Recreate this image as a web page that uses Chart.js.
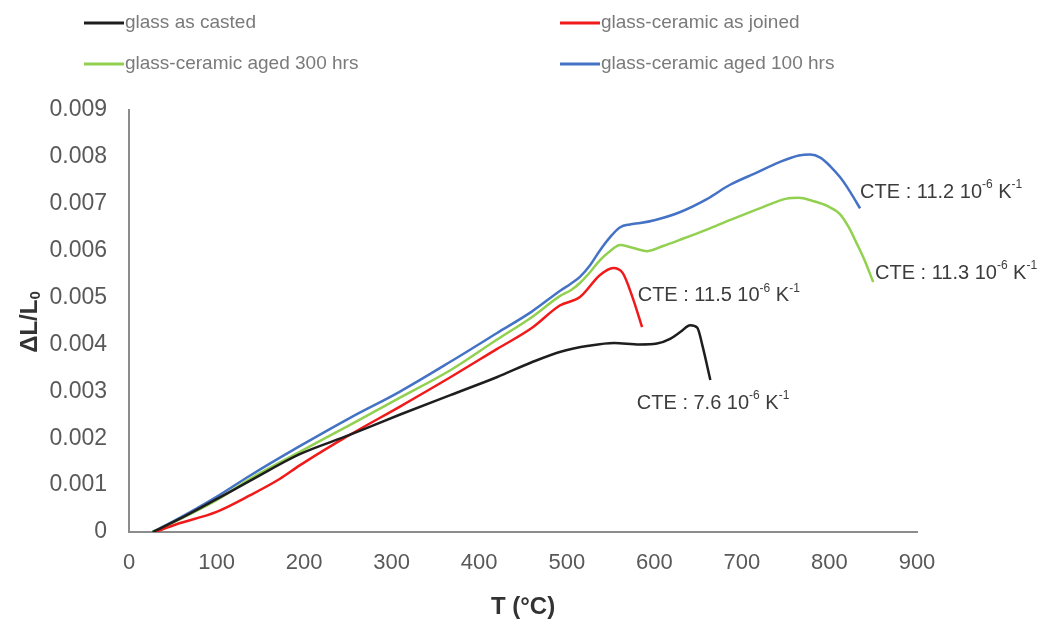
<!DOCTYPE html>
<html><head><meta charset="utf-8">
<script src="https://cdn.jsdelivr.net/npm/chart.js@4.4.0/dist/chart.umd.min.js"></script>
<style>html,body{margin:0;padding:0;background:#fff;} #wrap{width:1054px;height:624px;position:relative;}</style>
</head><body><div id="wrap"><canvas id="c" width="1054" height="624"></canvas></div>
<script>
const seriesNames = ['glass as casted', 'glass-ceramic as joined', 'glass-ceramic aged 300 hrs', 'glass-ceramic aged 100 hrs'];
const seriesColors = ['#1e1e1e', '#f01a1a', '#92d050', '#4472c4'];

const castedT = [27, 60, 100, 138, 195, 252, 309, 367, 420, 460, 494, 525, 554, 583, 603, 618, 630, 641, 649, 655, 664];
const castedV = [0, 0.0003, 0.0007, 0.00109, 0.00166, 0.00207, 0.0025, 0.00292, 0.0033, 0.00362, 0.00385, 0.00397, 0.00403, 0.004, 0.00402, 0.00412, 0.00427, 0.00441, 0.00436, 0.00397, 0.00324];

const joinedT = [30, 55, 100, 138, 172, 195, 252, 309, 367, 420, 460, 492, 515, 538, 553, 564, 575, 586];
const joinedV = [0, 0.00017, 0.00043, 0.00078, 0.00113, 0.00142, 0.00207, 0.00267, 0.0033, 0.0039, 0.00435, 0.00483, 0.00501, 0.00548, 0.00563, 0.00552, 0.00501, 0.00437];

const aged300T = [27, 50, 100, 138, 195, 252, 309, 367, 420, 460, 492, 505, 515, 527, 538, 550, 561, 572, 592, 610, 629, 660, 686, 724, 751, 765, 781, 798, 812, 822, 831, 840, 850];
const aged300V = [0, 0.0002, 0.00068, 0.00113, 0.00171, 0.00228, 0.00286, 0.00345, 0.0041, 0.00458, 0.00503, 0.00516, 0.00531, 0.00555, 0.0058, 0.006, 0.00612, 0.00608, 0.00599, 0.0061, 0.00623, 0.00645, 0.00665, 0.00693, 0.00711, 0.00713, 0.00706, 0.00695, 0.00678, 0.0065, 0.00616, 0.0058, 0.00533];

const aged100T = [27, 50, 100, 138, 195, 252, 309, 367, 420, 460, 492, 505, 515, 527, 538, 550, 561, 572, 584, 600, 629, 660, 686, 715, 743, 765, 778, 790, 801, 812, 820, 828, 835];
const aged100V = [0, 0.00022, 0.00075, 0.0012, 0.00183, 0.00243, 0.00299, 0.00363, 0.00424, 0.0047, 0.00514, 0.0053, 0.00544, 0.0057, 0.00601, 0.0063, 0.0065, 0.00656, 0.00659, 0.00665, 0.00682, 0.0071, 0.0074, 0.00765, 0.00789, 0.00803, 0.00805, 0.00798, 0.0078, 0.00757, 0.00736, 0.00712, 0.0069];

const xTicks = [0, 100, 200, 300, 400, 500, 600, 700, 800, 900];
const yTicks = [0, 0.001, 0.002, 0.003, 0.004, 0.005, 0.006, 0.007, 0.008, 0.009];

const cteValues = ['7.6', '11.5', '11.3', '11.2'];
const cteAnchorT = [580, 581, 852, 835];
const cteAnchorV = [0.00275, 0.00505, 0.00552, 0.00725];

const FONT = '"Liberation Sans", Arial, sans-serif';

function pts(T, V) { return T.map((t, i) => ({ x: t, y: V[i] })); }

const seriesData = [pts(castedT, castedV), pts(joinedT, joinedV), pts(aged300T, aged300V), pts(aged100T, aged100V)];

const extras = {
  id: 'extras',
  afterDraw(chart) {
    const ctx = chart.ctx;
    const xs = chart.scales.x, ys = chart.scales.y;
    ctx.save();
    const colX = [84, 560];
    const rowY = [23, 64];
    chart.data.datasets.forEach((ds, i) => {
      const col = i % 2, row = Math.floor(i / 2);
      const x0 = colX[col], y0 = rowY[row];
      ctx.strokeStyle = ds.borderColor;
      ctx.lineWidth = 3;
      ctx.beginPath(); ctx.moveTo(x0, y0); ctx.lineTo(x0 + 40, y0); ctx.stroke();
      ctx.fillStyle = '#7a7a7a';
      ctx.font = '19px ' + FONT;
      ctx.textBaseline = 'middle';
      ctx.textAlign = 'left';
      ctx.fillText(ds.label, x0 + 41, y0);
    });
    ctx.fillStyle = '#3c3c3c';
    ctx.textBaseline = 'middle';
    cteValues.forEach((v, i) => {
      let x = xs.getPixelForValue(cteAnchorT[i]);
      const y = ys.getPixelForValue(cteAnchorV[i]);
      const parts = [['CTE : ' + v + ' 10', false], ['-6', true], [' K', false], ['-1', true]];
      parts.forEach(([t, sup]) => {
        ctx.font = (sup ? '12px ' : '20px ') + FONT;
        ctx.fillText(t, x, sup ? y - 7 : y);
        x += ctx.measureText(t).width;
      });
    });
    ctx.save();
    ctx.translate(30, 322);
    ctx.rotate(-Math.PI / 2);
    ctx.fillStyle = '#333333';
    ctx.textBaseline = 'middle';
    ctx.font = 'bold 24px ' + FONT;
    const main = 'ΔL/L';
    const wMain = ctx.measureText(main).width;
    ctx.font = 'bold 15px ' + FONT;
    const wSub = ctx.measureText('0').width;
    const start = -(wMain + wSub) / 2;
    ctx.font = 'bold 24px ' + FONT;
    ctx.textAlign = 'left';
    ctx.fillText(main, start, 0);
    ctx.font = 'bold 15px ' + FONT;
    ctx.fillText('0', start + wMain, 6);
    ctx.restore();
    ctx.restore();
  }
};

new Chart(document.getElementById('c'), {
  type: 'line',
  data: {
    datasets: seriesNames.map((name, i) => ({
      label: name,
      data: seriesData[i],
      borderColor: seriesColors[i],
      backgroundColor: seriesColors[i],
      borderWidth: 2.5,
      pointRadius: 0,
      cubicInterpolationMode: 'monotone',
      fill: false
    }))
  },
  options: {
    responsive: false,
    devicePixelRatio: 1,
    animation: false,
    layout: { padding: { top: 110, right: 137, left: 0, bottom: 0 } },
    plugins: { legend: { display: false }, tooltip: { enabled: false } },
    scales: {
      x: {
        type: 'linear', min: 0, max: 900,
        afterBuildTicks: s => { s.ticks = xTicks.map(v => ({ value: v })); },
        afterFit: s => { s.height = 92; },
        grid: { display: false, drawTicks: false },
        border: { display: true, color: '#8c8c8c', width: 2 },
        ticks: { color: '#595959', font: { family: FONT, size: 22 }, padding: 18, maxRotation: 0 },
        title: { display: true, text: 'T (°C)', color: '#333333', font: { family: FONT, size: 24, weight: 'bold' }, padding: { top: 0, bottom: 2 } }
      },
      y: {
        type: 'linear', min: 0, max: 0.009,
        afterBuildTicks: s => { s.ticks = yTicks.map(v => ({ value: v })); },
        afterFit: s => { s.width = 129; },
        grid: { display: false, drawTicks: false },
        border: { display: true, color: '#8c8c8c', width: 2 },
        ticks: { color: '#595959', font: { family: FONT, size: 23 }, padding: 22, callback: v => v === 0 ? '0' : v.toFixed(3) }
      }
    }
  },
  plugins: [extras]
});
</script></body></html>
